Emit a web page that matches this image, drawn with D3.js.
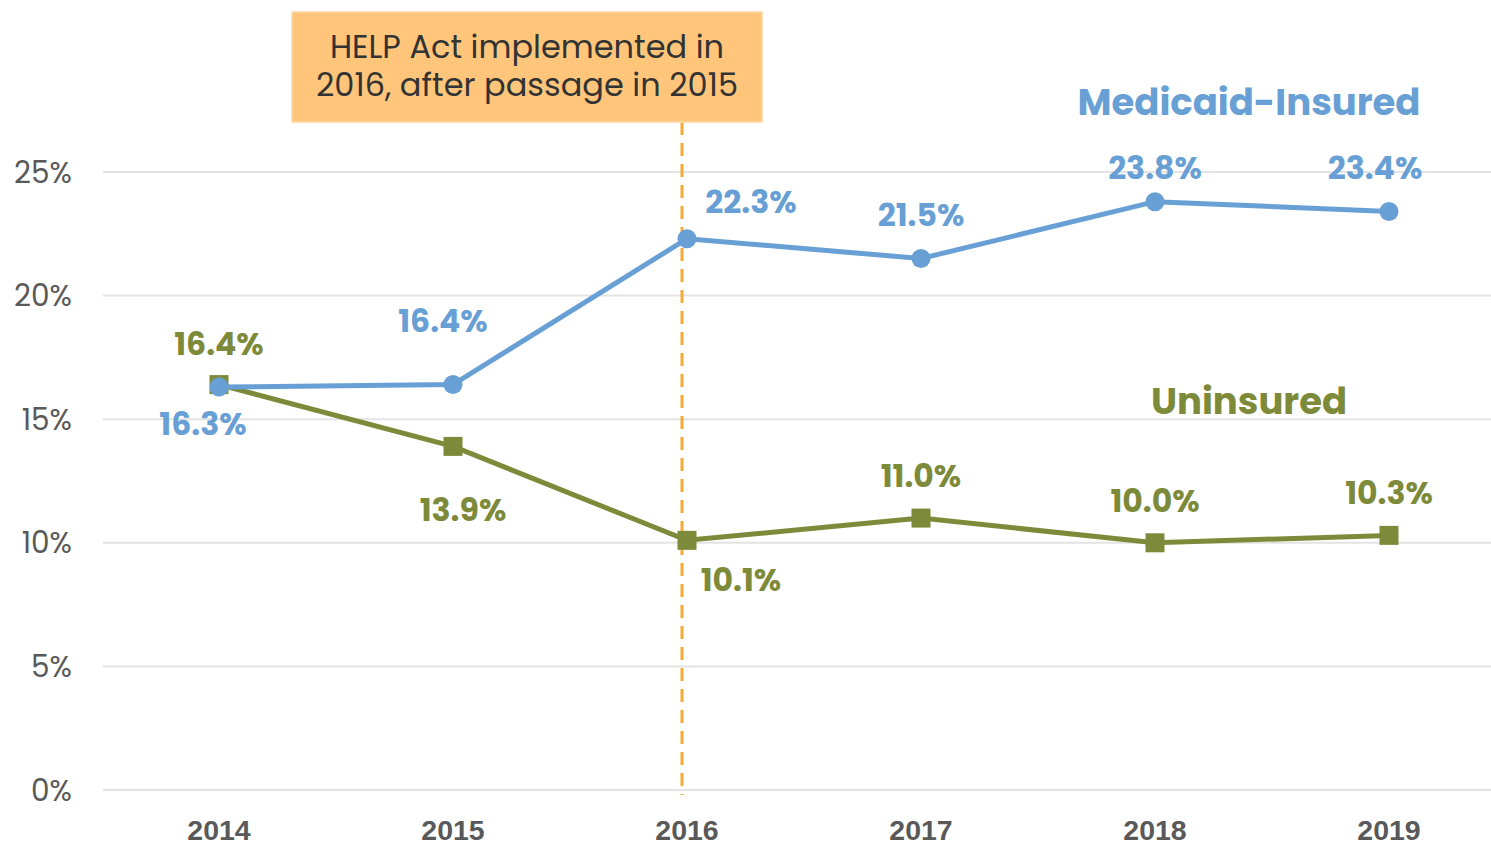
<!DOCTYPE html>
<html>
<head>
<meta charset="utf-8">
<script src="https://cdn.jsdelivr.net/npm/d3@7"></script>
<style>
    body { margin: 0; background: #fff; }
    svg { display: block; font-family: "Poppins", "Inter", "Open Sans", sans-serif; }
</style>
</head>
<body>
<svg></svg>
<script>
let years = ["2014", "2015", "2016", "2017", "2018", "2019"];
let medicaid = [16.3, 16.4, 22.3, 21.5, 23.8, 23.4];
let uninsured = [16.4, 13.9, 10.1, 11.0, 10.0, 10.3];
let yTicks = [0, 5, 10, 15, 20, 25];
let noteLines = ["HELP Act implemented in", "2016, after passage in 2015"];
let noteYear = "2016";

// label offsets from each point (dx, dy to baseline)
let medicaidOffsets = [[-16, 48], [-10, -53], [64, -26], [0, -33], [0, -23], [-14, -33]];
let uninsuredOffsets = [[0, -30], [10, 75], [54, 51], [0, -31], [0, -31], [0, -31]];

let width = 1491;
let height = 845;

let blue = "#689FD4";
let green = "#7D8A3A";
let grey = "#595959";

let svg = d3.select("svg")
    .attr("width", width)
    .attr("height", height);

let xScale = d3.scaleBand()
    .domain(years)
    .range([102, 1506]);

let yScale = d3.scaleLinear()
    .domain([0, 25])
    .range([790, 172]);

let xOf = i => xScale(years[i]) + xScale.bandwidth() / 2;

// gridlines
svg.append("g")
    .selectAll("line")
    .data(yTicks)
    .enter()
    .append("line")
    .attr("x1", 103)
    .attr("x2", 1491)
    .attr("y1", d => yScale(d))
    .attr("y2", d => yScale(d))
    .attr("stroke", "#e3e3e3")
    .attr("stroke-width", 2);

// y axis labels
svg.append("g")
    .selectAll("text")
    .data(yTicks)
    .enter()
    .append("text")
    .attr("x", 72)
    .attr("y", d => yScale(d) + 10.5)
    .attr("text-anchor", "end")
    .attr("font-size", 29.5)
    .attr("fill", grey)
    .text(d => d + "%");

// x axis labels
let xAxis = d3.axisBottom(xScale).tickSize(0).tickPadding(0);
let gx = svg.append("g")
    .attr("transform", "translate(0, 840)")
    .call(xAxis);
gx.select(".domain").remove();
gx.selectAll("text")
    .attr("y", 0)
    .attr("dy", 0)
    .attr("font-size", 28.5)
    .attr("font-weight", "bold")
    .attr("font-family", null)
    .attr("fill", grey);

// dashed marker line
let noteX = xScale(noteYear) + xScale.bandwidth() / 2 - 5;
svg.append("line")
    .attr("x1", noteX)
    .attr("x2", noteX)
    .attr("y1", 122)
    .attr("y2", 795)
    .attr("stroke", "#F7A935")
    .attr("stroke-width", 3)
    .attr("stroke-dasharray", "13,8");

// note box
svg.append("rect")
    .attr("x", 292)
    .attr("y", 12)
    .attr("width", 470)
    .attr("height", 110)
    .attr("fill", "#FFC67B")
    .attr("stroke", "#FFD9A6")
    .attr("stroke-width", 1.5);

svg.append("g")
    .selectAll("text")
    .data(noteLines)
    .enter()
    .append("text")
    .attr("x", 527)
    .attr("y", (d, i) => 58 + i * 38)
    .attr("text-anchor", "middle")
    .attr("font-size", 32)
    .attr("fill", "#333")
    .text(d => d);

let line = d3.line()
    .x((d, i) => xOf(i))
    .y(d => yScale(d));

// uninsured series
svg.append("path")
    .datum(uninsured)
    .attr("d", line)
    .attr("fill", "none")
    .attr("stroke", green)
    .attr("stroke-width", 5);

svg.append("g")
    .selectAll("rect")
    .data(uninsured)
    .enter()
    .append("rect")
    .attr("x", (d, i) => xOf(i) - 9.5)
    .attr("y", d => yScale(d) - 9.5)
    .attr("width", 19)
    .attr("height", 19)
    .attr("fill", green);

// medicaid series
svg.append("path")
    .datum(medicaid)
    .attr("d", line)
    .attr("fill", "none")
    .attr("stroke", blue)
    .attr("stroke-width", 5);

svg.append("g")
    .selectAll("circle")
    .data(medicaid)
    .enter()
    .append("circle")
    .attr("cx", (d, i) => xOf(i))
    .attr("cy", d => yScale(d))
    .attr("r", 9.5)
    .attr("fill", blue);

// data labels
let drawLabels = (values, offsets, color) => {
    svg.append("g")
        .selectAll("text")
        .data(values)
        .enter()
        .append("text")
        .attr("x", (d, i) => xOf(i) + offsets[i][0])
        .attr("y", d => yScale(d))
        .attr("dy", (d, i) => offsets[i][1])
        .attr("text-anchor", "middle")
        .attr("font-size", 31.5)
        .attr("font-weight", "bold")
        .attr("fill", color)
        .text(d => d.toFixed(1) + "%");
};
drawLabels(medicaid, medicaidOffsets, blue);
drawLabels(uninsured, uninsuredOffsets, green);

// series names
svg.append("text")
    .attr("x", 1249)
    .attr("y", 115)
    .attr("text-anchor", "middle")
    .attr("font-size", 37)
    .attr("font-weight", "bold")
    .attr("fill", blue)
    .text("Medicaid-Insured");

svg.append("text")
    .attr("x", 1249)
    .attr("y", 414)
    .attr("text-anchor", "middle")
    .attr("font-size", 37)
    .attr("font-weight", "bold")
    .attr("fill", green)
    .text("Uninsured");
</script>
</body>
</html>
